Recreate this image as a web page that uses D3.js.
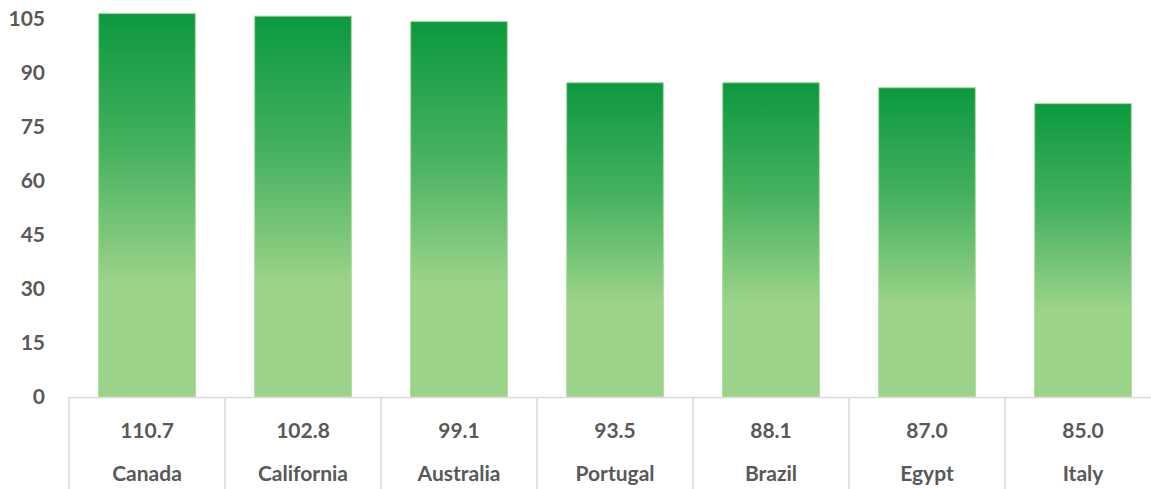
<!DOCTYPE html>
<head>
    <meta charset="utf-8">
    <script src="https://cdn.jsdelivr.net/npm/d3@7"></script>
    <style>
        body { margin: 0; background: white; }
        text {
            font-family: Lato, "Open Sans", sans-serif;
            font-weight: bold;
            fill: #595959;
        }
    </style>
</head>

<body>
<script>

    var categories = ["Canada", "California", "Australia", "Portugal", "Brazil", "Egypt", "Italy"];
    // bar heights as drawn in the picture
    var barValues = [106.5, 105.8, 104.3, 87.3, 87.3, 85.9, 81.5];
    // numbers printed in the table row
    var tableValues = ["110.7", "102.8", "99.1", "93.5", "88.1", "87.0", "85.0"];
    var yTicks = [0, 15, 30, 45, 60, 75, 90, 105];

    var width = 1151, height = 489;

    var svg = d3.select("body").append("svg")
        .attr("width", width)
        .attr("height", height);

    var left = 69, base = 397, bandW = 156;

    var x = d3.scaleBand().domain(categories)
        .range([left, left + bandW * categories.length])
        .paddingInner(0.38).paddingOuter(0.19);
    var y = d3.scaleLinear().domain([0, 105]).range([base, base - 105 * 3.6]);

    var grad = svg.append("defs").append("linearGradient")
        .attr("id", "barGrad")
        .attr("x1", 0).attr("y1", 0).attr("x2", 0).attr("y2", 1);
    grad.append("stop").attr("offset", "0%").attr("stop-color", "#0b993f");
    grad.append("stop").attr("offset", "35%").attr("stop-color", "#45b15e");
    grad.append("stop").attr("offset", "70%").attr("stop-color", "#9bd389");
    grad.append("stop").attr("offset", "100%").attr("stop-color", "#9bd389");

    // y axis labels
    svg.selectAll(".ytick").data(yTicks).enter().append("text")
        .attr("class", "ytick")
        .attr("x", 45)
        .attr("y", function(d) { return y(d); })
        .attr("dy", "0.35em")
        .style("text-anchor", "end")
        .style("font-size", "21px")
        .text(function(d) { return d; });

    svg.selectAll("rect.bar").data(barValues).enter().append("rect")
        .attr("class", "bar")
        .attr("x", function(d, i) { return x(categories[i]); })
        .attr("y", function(d) { return y(d); })
        .attr("width", x.bandwidth())
        .attr("height", function(d) { return base - y(d); })
        .style("fill", "url(#barGrad)")
        .style("stroke", "#a9dd9c")
        .style("stroke-width", 1);

    // table below the axis
    var grid = svg.append("g").style("stroke", "#d9d9d9").style("stroke-width", 1.5);
    grid.append("line")
        .attr("x1", left).attr("x2", width)
        .attr("y1", base + 0.5).attr("y2", base + 0.5);
    var dividers = d3.range(categories.length).map(function(i) { return left + i * bandW; });
    grid.selectAll(".div").data(dividers).enter().append("line")
        .attr("x1", function(d) { return d; }).attr("x2", function(d) { return d; })
        .attr("y1", base).attr("y2", height);

    svg.selectAll(".tval").data(tableValues).enter().append("text")
        .attr("x", function(d, i) { return left + i * bandW + bandW / 2; })
        .attr("y", 431)
        .attr("dy", "0.35em")
        .style("text-anchor", "middle")
        .style("font-size", "21px")
        .text(function(d) { return d; });

    svg.selectAll(".tcat").data(categories).enter().append("text")
        .attr("x", function(d, i) { return left + i * bandW + bandW / 2; })
        .attr("y", 474)
        .attr("dy", "0.35em")
        .style("text-anchor", "middle")
        .style("font-size", "21px")
        .text(function(d) { return d; });

</script>
</body>
